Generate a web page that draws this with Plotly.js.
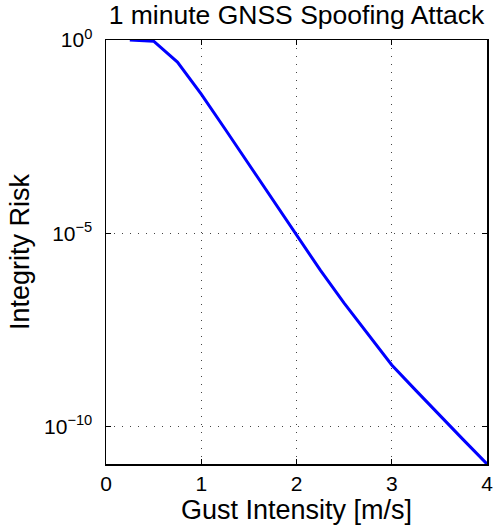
<!DOCTYPE html>
<html>
<head>
<meta charset="utf-8">
<script src="https://cdn.plot.ly/plotly-3.0.1.min.js"></script>
<style>html,body{margin:0;padding:0;background:#fff;}</style>
</head>
<body>
<div id="chart" style="width:496px;height:531px;"></div>
<script>
const gustIntensity = [0.25, 0.5, 0.75, 1, 1.25, 1.5, 1.75, 2, 2.25, 2.5, 2.75, 3, 3.25, 3.5, 3.75, 4];
const log10Risk = [0, -0.03, -0.57, -1.4, -2.3, -3.22, -4.14, -5.06, -5.95, -6.8, -7.6, -8.4, -9.05, -9.7, -10.33, -10.96];
const integrityRisk = log10Risk.map(v => Math.pow(10, v));
const xTickVals = [0, 1, 2, 3, 4];
const yTickVals = [1, 1e-5, 1e-10];
const yTickText = ['10<sup>0</sup>', '10<sup>\u22125</sup>', '10<sup>\u221210</sup>'];

const font = 'Liberation Sans, Arial, sans-serif';
Plotly.newPlot('chart', [{
  x: gustIntensity,
  y: integrityRisk,
  type: 'scatter',
  mode: 'lines',
  line: {color: '#0000ff', width: 3},
  hoverinfo: 'skip'
}], {
  width: 496, height: 531,
  margin: {l: 106, r: 9, t: 40, b: 67},
  paper_bgcolor: '#fff', plot_bgcolor: '#fff',
  showlegend: false,
  font: {family: font, color: '#000'},
  title: {text: '1 minute GNSS Spoofing Attack', font: {family: font, size: 26.5, color: '#000'}, xref: 'paper', x: 0.5, xanchor: 'center', yref: 'container', y: 0.99, yanchor: 'top'},
  xaxis: {
    range: [0, 4], tickvals: xTickVals, ticktext: xTickVals.map(String),
    showgrid: true, gridcolor: '#444', griddash: '1px,7px', gridwidth: 1,
    zeroline: false, showline: true, linecolor: '#000', linewidth: 1.5, mirror: 'ticks',
    ticks: 'inside', ticklen: 5, tickcolor: '#000', ticklabelstandoff: 0,
    tickfont: {family: font, size: 21, color: '#000'},
    title: {text: 'Gust Intensity [m/s]', font: {family: font, size: 27, color: '#000'}, standoff: 2}
  },
  yaxis: {
    type: 'log', range: [-10.96, 0], tickvals: yTickVals, ticktext: yTickText,
    showgrid: true, gridcolor: '#444', griddash: '1px,7px', gridwidth: 1,
    zeroline: false, showline: true, linecolor: '#000', linewidth: 1.5, mirror: 'ticks',
    ticks: 'inside', ticklen: 5, tickcolor: '#000', ticklabelstandoff: 8,
    tickfont: {family: font, size: 21, color: '#000'},
    title: {text: 'Integrity Risk', font: {family: font, size: 27, color: '#000'}, standoff: 6}
  }
}, {displayModeBar: false, staticPlot: true});
</script>
</body>
</html>
